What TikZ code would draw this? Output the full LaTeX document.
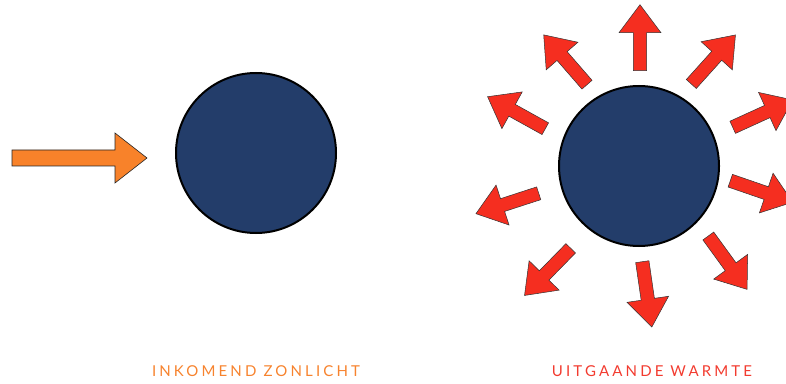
\documentclass[tikz,border=0pt]{standalone}
\usepackage{fontspec}
\setmainfont{Lato}[LetterSpace=21]
\definecolor{navy}{HTML}{233D6A}
\definecolor{sunorange}{HTML}{F8822A}
\definecolor{heatred}{HTML}{F52E20}
\definecolor{txtorange}{HTML}{F7832E}
\definecolor{txtred}{HTML}{F23B2F}
\tikzset{
  planet/.style={draw=black, line width=2pt, fill=navy},
  warrow/.pic={\draw[fill=heatred, draw=black!80, line width=0.5pt, line join=miter]
     (0,-6.7) -- (38,-6.7) -- (38,-21) -- (66,0) -- (38,21) -- (38,6.7) -- (0,6.7) -- cycle;},
  label/.style={font=\fontsize{15}{18}\selectfont, inner sep=0pt}
}
\begin{document}
\begin{tikzpicture}[x=1pt,y=1pt]
\useasboundingbox (0,0) rectangle (786,383);
\clip (0,0) rectangle (786,383);
% incoming sunlight arrow
\draw[fill=sunorange, draw=black!85, line width=0.6pt, line join=miter]
  (12,217) -- (115,217) -- (115,200) -- (147,225) -- (115,250) -- (115,233) -- (12,233) -- cycle;
\node[planet, circle, minimum size=160pt, inner sep=0pt] (earthA) at (256,230) {};
% outgoing heat
\node[planet, circle, minimum size=160pt, inner sep=0pt] (earthB) at (639,217) {};
\pic[rotate=90]    at (640,312.3) {warrow};
\pic[rotate=48]    at (691.3,299) {warrow};
\pic[rotate=24.5]  at (732.7,255.7) {warrow};
\pic[rotate=-19]   at (730.3,202.3) {warrow};
\pic[rotate=-54]   at (708.3,147) {warrow};
\pic[rotate=-81.7] at (642.3,121.3) {warrow};
\pic[rotate=-134.4] at (570.7,134.7) {warrow};
\pic[rotate=198]   at (538.7,189.7) {warrow};
\pic[rotate=151]   at (545.3,254.3) {warrow};
\pic[rotate=131]   at (587,298.3) {warrow};
\node[label, text=txtorange] (lblA) at (256,11.5) {INKOMEND ZONLICHT};
\node[label, text=txtred] (lblB) at (652,11.5) {UITGAANDE WARMTE};
\end{tikzpicture}
\end{document}
